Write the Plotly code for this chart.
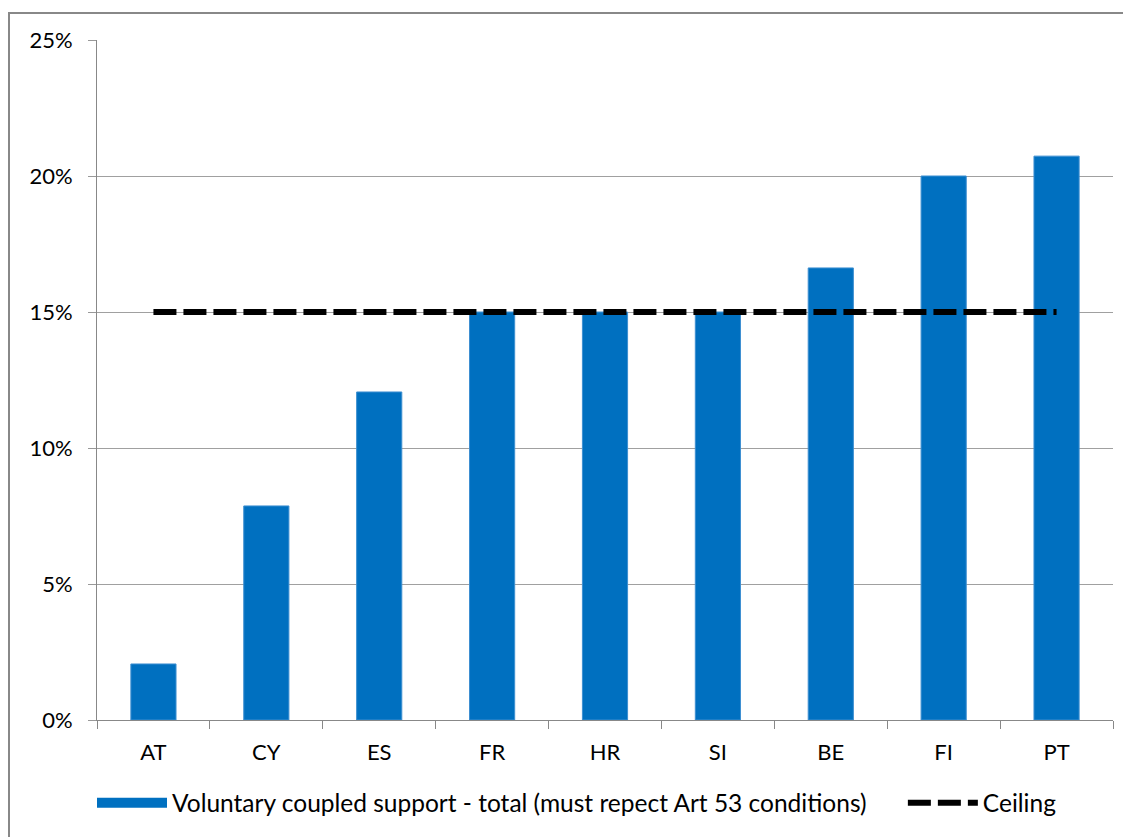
import plotly.graph_objects as go

categories = ["AT", "CY", "ES", "FR", "HR", "SI", "BE", "FI", "PT"]
support = [0.0206, 0.0787, 0.1206, 0.15, 0.15, 0.15, 0.1662, 0.20, 0.2073]
ceiling = [0.15] * len(categories)
y_ticks = [0, 0.05, 0.10, 0.15, 0.20, 0.25]
y_tick_labels = ["0%", "5%", "10%", "15%", "20%", "25%"]
support_name = "Voluntary coupled support - total (must repect Art 53 conditions)"
ceiling_name = "Ceiling"

FONT = "Lato"
BLUE = "#0070C0"

fig = go.Figure()
fig.add_trace(go.Bar(
    x=categories, y=support, name=support_name, showlegend=False,
    marker=dict(color=BLUE, line=dict(color="#3d8fd1", width=1)),
))
# legend swatch for the bars (wide rectangle like the reference)
fig.add_trace(go.Scatter(
    x=[None], y=[None], mode="lines", name=support_name + "\u00a0" * 5,
    line=dict(color=BLUE, width=15),
))
fig.add_trace(go.Scatter(
    x=categories, y=ceiling, mode="lines", name=ceiling_name,
    line=dict(color="black", width=6, dash="23px,7px"),
))

OFF = 8  # default page body margin
W, H = 1131 - OFF, 837 - OFF
L, T = 97 - OFF, 40 - OFF
R = W - (1113 - OFF)
B = H - (722 - OFF)
pw, ph = W - L - R, H - T - B

fig.update_layout(
    width=W, height=H,
    margin=dict(l=L, r=R, t=T, b=B),
    paper_bgcolor="white", plot_bgcolor="white",
    font=dict(family=FONT, size=22, color="black"),
    bargap=0.6,
    showlegend=True,
    legend=dict(orientation="h", x=(577 - 97) / pw, xanchor="center", y=-(805 - 722) / ph,
                yanchor="middle", font=dict(size=24.5), itemwidth=70,
                traceorder="normal"),
    xaxis=dict(
        showline=True, linecolor="#888888", linewidth=1,
        ticks="outside", ticklen=8, tickcolor="#888888", tickson="boundaries",
        showgrid=False, tickfont=dict(size=22), ticklabelstandoff=13,
    ),
    yaxis=dict(
        range=[0, 0.25], tickvals=y_ticks, ticktext=y_tick_labels,
        showline=True, linecolor="#888888", linewidth=1,
        ticks="outside", ticklen=8, tickcolor="#999999",
        showgrid=True, gridcolor="#a0a0a0", gridwidth=1,
        zeroline=False, tickfont=dict(size=22), ticklabelstandoff=11,
    ),
    shapes=[dict(
        type="rect", xref="paper", yref="paper",
        x0=(9 - 97) / pw, x1=1.1, y0=-0.3, y1=1 + (40 - 13) / ph,
        line=dict(color="#888888", width=2), fillcolor="rgba(0,0,0,0)", layer="below",
    )],
)

fig.write_html("out.html")
